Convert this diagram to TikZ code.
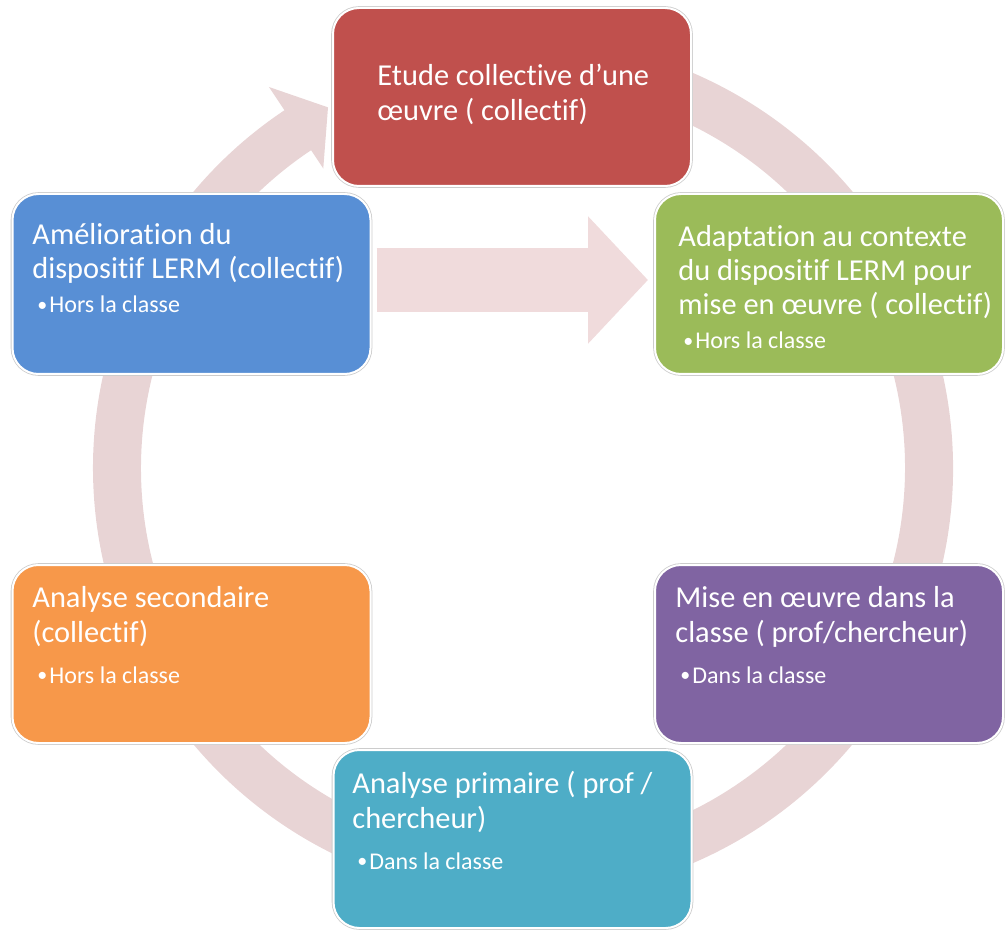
\documentclass[tikz,border=0pt]{standalone}
\usepackage{fontspec}
\setmainfont{Carlito}[Ligatures={NoCommon,NoRare,NoContextual}, RawFeature={-liga;-clig;-calt;-dlig}]
\usetikzlibrary{arrows.meta}
\definecolor{redc}{RGB}{192,80,77}
\definecolor{bluec}{RGB}{88,143,213}
\definecolor{greenc}{RGB}{155,187,89}
\definecolor{purplec}{RGB}{128,100,162}
\definecolor{cyanc}{RGB}{78,173,199}
\definecolor{orangec}{RGB}{247,152,74}
\definecolor{ringc}{RGB}{232,212,213}
\definecolor{arrowc}{RGB}{240,219,220}
\newcommand{\mainlines}[2]{\setlength{\parindent}{0pt}\setlength{\parskip}{0pt}\raggedright\fontsize{15.2pt}{#1}\selectfont #2\par}
\newcommand{\bul}[2]{\vspace*{#1}{\fontsize{12pt}{17pt}\selectfont\hspace*{2.5pt}\makebox[6pt][l]{\raisebox{0.6pt}{\fontsize{10pt}{10pt}\selectfont •}}#2\par}}
\tikzset{
  box/.style={rounded corners=13pt, minimum height=89pt, inner sep=0pt,
    draw=white, line width=1pt, preaction={draw=black!20, line width=1.8pt}},
  txt/.style={anchor=base west, inner sep=0pt, text=white},
  bigarrow/.style={draw=arrowc, line width=32pt, -{Triangle[length=30pt,width=62pt]}}
}
\begin{document}
\begin{tikzpicture}[x=0.5pt,y=-0.5pt]
\useasboundingbox (0,0) rectangle (1006,930);
% circular arrow
\begin{scope}[shift={(523,468)}, x=0.5pt, y=0.5pt]
\fill[ringc] (100:215pt) arc[start angle=100, end angle=-236.3, radius=215pt]
  -- (-236.3:229pt) -- (-241.6:205pt) -- (-236.3:180pt) -- (-236.3:191pt)
  arc[start angle=-236.3, end angle=100, radius=191pt] -- cycle;
\end{scope}
% boxes
\node[box, fill=redc, minimum width=179pt] (red) at (512,97) {};
\node[box, fill=bluec, minimum width=179pt, minimum height=90pt] (blue) at (191.5,284) {};
\node[box, fill=greenc, minimum width=174pt, minimum height=90pt] (green) at (829,284) {};
\node[box, fill=orangec, minimum width=179pt] (orange) at (191.5,654) {};
\node[box, fill=purplec, minimum width=174pt] (purple) at (829,654) {};
\node[box, fill=cyanc, minimum width=179pt] (cyan) at (512.5,839) {};
% straight arrow
\draw[bigarrow, shorten <=2.5pt, shorten >=3pt] ([yshift=2pt]blue.east) -- ([yshift=2pt]green.west);
% texts
\node[txt] (tred) at (377,86) {\parbox[t]{170pt}{\mainlines{17.5pt}{Etude collective d’une\\œuvre ( collectif)}}};
\node[txt] (tblue) at (32,245) {\parbox[t]{170pt}{\mainlines{17pt}{Amélioration du\\dispositif LERM (collectif)}\bul{0pt}{Hors la classe}}};
\node[txt] (tgreen) at (678,247) {\parbox[t]{170pt}{\mainlines{17pt}{Adaptation au contexte\\du dispositif LERM pour\\mise en œuvre ( collectif)}\bul{0pt}{Hors la classe}}};
\node[txt] (torange) at (32,607) {\parbox[t]{170pt}{\mainlines{17.5pt}{Analyse secondaire\\(collectif)}\bul{3.5pt}{Hors la classe}}};
\node[txt] (tpurple) at (675,607) {\parbox[t]{170pt}{\mainlines{17.5pt}{Mise en œuvre dans la\\classe ( prof/chercheur)}\bul{3.5pt}{Dans la classe}}};
\node[txt] (tcyan) at (352,793) {\parbox[t]{170pt}{\mainlines{17.5pt}{Analyse primaire ( prof /\\chercheur)}\bul{3.5pt}{Dans la classe}}};
\end{tikzpicture}
\end{document}
